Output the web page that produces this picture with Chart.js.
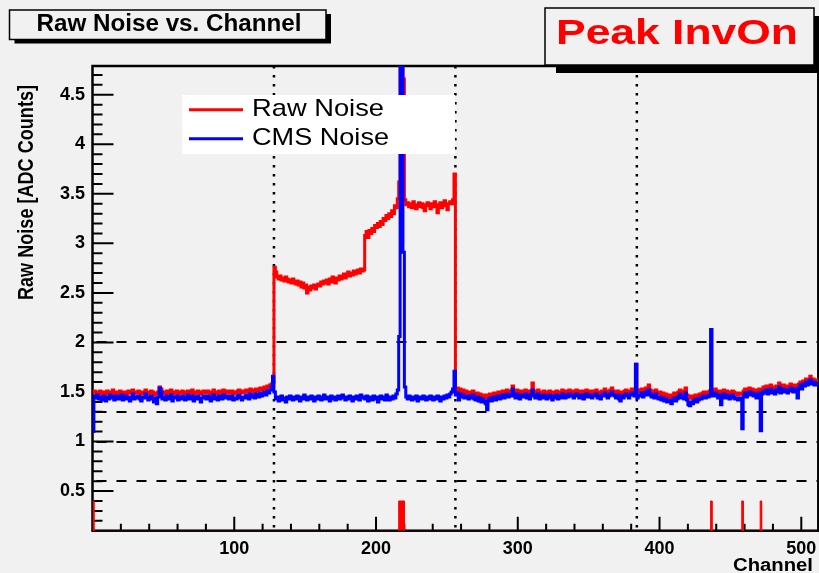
<!DOCTYPE html>
<html><head><meta charset="utf-8">
<script src="https://cdn.jsdelivr.net/npm/chart.js@4.4.1/dist/chart.umd.min.js"></script>
<style>html,body{margin:0;padding:0;background:#f1f1f1;}canvas{display:block;}</style>
</head><body>
<canvas id="c" width="819" height="573"></canvas>
<script>
const chartTitle = 'Raw Noise vs. Channel';
const runLabel = 'Peak InvOn';
const xTitle = 'Channel';
const yTitle = 'Raw Noise [ADC Counts]';

const rawNoise = [
1.50,1.51,1.49,1.50,1.48,1.51,1.50,1.49,1.47,1.50,1.51,1.48,1.49,1.50,1.52,1.49,
1.48,1.50,1.49,1.51,1.50,1.47,1.49,1.50,1.48,1.51,1.49,1.50,1.52,1.48,1.49,1.50,
1.51,1.49,1.48,1.50,1.49,1.52,1.50,1.48,1.49,1.51,1.50,1.47,1.49,1.48,1.50,1.55,
1.53,1.49,1.50,1.48,1.51,1.49,1.50,1.52,1.48,1.49,1.50,1.51,1.48,1.50,1.49,1.51,
1.50,1.48,1.49,1.51,1.50,1.49,1.52,1.48,1.50,1.49,1.51,1.50,1.48,1.49,1.51,1.50,
1.49,1.51,1.50,1.48,1.50,1.52,1.49,1.50,1.48,1.51,1.49,1.50,1.52,1.49,1.50,1.51,
1.49,1.50,1.51,1.48,1.50,1.49,1.51,1.52,1.50,1.49,1.51,1.50,1.52,1.51,1.50,1.53,
1.51,1.52,1.50,1.53,1.51,1.52,1.54,1.52,1.53,1.55,1.53,1.56,1.55,1.57,1.58,1.60,
2.76,2.71,2.66,2.64,2.67,2.63,2.65,2.62,2.66,2.64,2.61,2.63,2.60,2.64,2.62,2.59,
2.62,2.58,2.61,2.56,2.60,2.55,2.58,2.50,2.56,2.53,2.57,2.55,2.58,2.54,2.57,2.59,
2.57,2.61,2.59,2.62,2.60,2.63,2.59,2.64,2.61,2.66,2.62,2.60,2.65,2.63,2.67,2.64,
2.66,2.69,2.65,2.68,2.71,2.67,2.70,2.68,2.72,2.69,2.71,2.73,2.70,2.74,2.72,2.73,
3.08,3.12,3.06,3.13,3.10,3.15,3.12,3.18,3.16,3.20,3.17,3.22,3.19,3.25,3.23,3.28,
3.25,3.30,3.27,3.33,3.30,3.38,3.36,3.45,3.62,6.00,6.00,4.66,3.44,3.39,3.41,3.37,
3.40,3.36,3.42,3.38,3.35,3.39,3.41,3.37,3.40,3.36,3.33,3.39,3.41,3.38,3.35,3.40,
3.37,3.42,3.38,3.31,3.39,3.41,3.36,3.40,3.43,3.38,3.34,3.40,3.42,3.40,3.44,3.70,
1.52,1.54,1.51,1.53,1.50,1.52,1.49,1.51,1.50,1.48,1.50,1.49,1.51,1.48,1.47,1.49,
1.46,1.48,1.45,1.47,1.46,1.44,1.47,1.45,1.48,1.46,1.47,1.49,1.46,1.48,1.50,1.47,
1.49,1.51,1.48,1.50,1.52,1.49,1.51,1.50,1.56,1.51,1.49,1.52,1.50,1.48,1.51,1.49,
1.50,1.52,1.49,1.51,1.48,1.50,1.59,1.51,1.49,1.50,1.52,1.48,1.50,1.49,1.51,1.50,
1.48,1.50,1.51,1.49,1.47,1.50,1.49,1.51,1.48,1.50,1.49,1.52,1.50,1.49,1.51,1.50,
1.52,1.50,1.51,1.49,1.50,1.52,1.51,1.49,1.50,1.51,1.48,1.50,1.52,1.49,1.51,1.50,
1.49,1.51,1.50,1.52,1.49,1.50,1.48,1.51,1.50,1.53,1.51,1.49,1.50,1.52,1.54,1.51,
1.50,1.49,1.51,1.48,1.47,1.50,1.49,1.51,1.52,1.50,1.49,1.51,1.53,1.52,1.50,1.78,
1.52,1.50,1.51,1.53,1.50,1.52,1.54,1.51,1.57,1.52,1.50,1.51,1.49,1.52,1.50,1.48,
1.50,1.47,1.49,1.46,1.48,1.45,1.47,1.46,1.44,1.47,1.49,1.46,1.48,1.50,1.52,1.49,
1.51,1.48,1.54,1.47,1.44,1.45,1.46,1.43,1.45,1.47,1.44,1.46,1.48,1.47,1.49,1.50,
1.48,1.50,1.49,1.51,1.52,1.50,1.51,1.53,1.50,1.49,1.51,1.48,1.50,1.52,1.49,1.51,
1.50,1.48,1.49,1.51,1.50,1.48,1.49,1.47,1.48,1.49,1.48,1.51,1.53,1.50,1.52,1.54,
1.51,1.53,1.50,1.52,1.49,1.51,1.53,1.50,1.52,1.55,1.53,1.56,1.52,1.54,1.57,1.53,
1.55,1.52,1.56,1.54,1.59,1.53,1.55,1.57,1.54,1.56,1.53,1.55,1.58,1.56,1.54,1.57,
1.55,1.52,1.58,1.60,1.57,1.61,1.59,1.63,1.60,1.62,1.66,1.61,1.63,1.60,1.62,1.61
];

const cmsNoise = [
1.10,1.46,1.44,1.47,1.43,1.45,1.42,1.46,1.44,1.41,1.45,1.43,1.47,1.44,1.46,1.42,
1.44,1.46,1.43,1.45,1.47,1.42,1.44,1.46,1.43,1.45,1.41,1.44,1.48,1.43,1.45,1.44,
1.46,1.43,1.41,1.45,1.44,1.48,1.45,1.42,1.44,1.46,1.43,1.40,1.44,1.38,1.45,1.54,
1.50,1.43,1.45,1.42,1.46,1.44,1.43,1.47,1.41,1.44,1.45,1.46,1.42,1.45,1.43,1.46,
1.44,1.42,1.45,1.47,1.43,1.44,1.46,1.41,1.45,1.43,1.46,1.44,1.40,1.44,1.46,1.45,
1.43,1.46,1.44,1.41,1.45,1.47,1.43,1.45,1.42,1.46,1.44,1.43,1.47,1.44,1.45,1.46,
1.43,1.45,1.46,1.42,1.44,1.43,1.46,1.47,1.44,1.42,1.45,1.44,1.47,1.45,1.43,1.48,
1.45,1.47,1.44,1.48,1.46,1.45,1.49,1.46,1.48,1.50,1.47,1.51,1.49,1.52,1.55,1.66,
1.50,1.43,1.45,1.41,1.44,1.46,1.42,1.44,1.40,1.45,1.43,1.46,1.44,1.42,1.45,1.43,
1.46,1.44,1.41,1.45,1.43,1.47,1.44,1.42,1.45,1.43,1.46,1.44,1.41,1.45,1.43,1.46,
1.44,1.42,1.45,1.47,1.43,1.45,1.44,1.41,1.46,1.43,1.45,1.42,1.44,1.46,1.43,1.45,
1.47,1.44,1.42,1.45,1.43,1.46,1.44,1.41,1.45,1.43,1.46,1.44,1.42,1.47,1.44,1.45,
1.43,1.46,1.41,1.45,1.44,1.42,1.46,1.43,1.45,1.40,1.44,1.46,1.43,1.45,1.42,1.47,
1.44,1.42,1.45,1.43,1.46,1.44,1.48,1.52,2.06,6.00,6.00,2.91,1.55,1.45,1.43,1.46,
1.44,1.42,1.45,1.43,1.46,1.41,1.44,1.45,1.43,1.46,1.44,1.42,1.45,1.43,1.46,1.44,
1.42,1.45,1.43,1.46,1.44,1.41,1.45,1.43,1.46,1.44,1.47,1.45,1.48,1.50,1.53,1.71,
1.47,1.49,1.42,1.48,1.45,1.47,1.44,1.46,1.45,1.43,1.46,1.44,1.47,1.43,1.42,1.45,
1.41,1.44,1.40,1.43,1.41,1.38,1.32,1.42,1.44,1.41,1.43,1.45,1.42,1.44,1.46,1.43,
1.45,1.47,1.44,1.46,1.48,1.45,1.47,1.46,1.53,1.47,1.44,1.48,1.46,1.43,1.47,1.45,
1.46,1.48,1.44,1.47,1.43,1.46,1.52,1.47,1.44,1.46,1.48,1.43,1.46,1.44,1.47,1.45,
1.43,1.46,1.47,1.44,1.42,1.46,1.44,1.47,1.43,1.46,1.44,1.48,1.45,1.44,1.47,1.45,
1.48,1.46,1.47,1.44,1.46,1.48,1.47,1.44,1.46,1.47,1.43,1.46,1.48,1.45,1.47,1.46,
1.44,1.47,1.46,1.48,1.44,1.46,1.43,1.47,1.46,1.49,1.47,1.44,1.46,1.48,1.50,1.47,
1.46,1.44,1.47,1.43,1.41,1.46,1.44,1.47,1.48,1.46,1.44,1.47,1.49,1.48,1.46,1.78,
1.44,1.46,1.47,1.49,1.45,1.48,1.50,1.47,1.52,1.48,1.45,1.47,1.44,1.48,1.45,1.43,
1.45,1.42,1.44,1.41,1.43,1.40,1.42,1.41,1.38,1.42,1.44,1.41,1.43,1.45,1.48,1.44,
1.46,1.43,1.49,1.42,1.37,1.36,1.40,1.38,1.41,1.43,1.40,1.42,1.44,1.43,1.45,1.46,
1.44,1.46,1.45,1.47,2.13,1.46,1.47,1.49,1.46,1.44,1.47,1.37,1.45,1.48,1.44,1.47,
1.46,1.43,1.44,1.47,1.45,1.43,1.44,1.42,1.43,1.44,1.13,1.46,1.49,1.45,1.48,1.50,
1.47,1.49,1.46,1.48,1.44,1.47,1.49,1.11,1.48,1.51,1.49,1.52,1.48,1.50,1.53,1.49,
1.51,1.48,1.52,1.50,1.55,1.49,1.51,1.53,1.50,1.52,1.49,1.51,1.54,1.52,1.50,1.53,
1.51,1.44,1.54,1.57,1.53,1.58,1.56,1.60,1.57,1.59,1.62,1.58,1.60,1.57,1.59,1.58
];

const flaggedChannels = [0, 216, 217, 218, 219, 436, 458, 471];
const flagLevel = 0.4;
const cutChannels = [128, 256, 384];
const thresholdLevels = [2.0, 1.3, 1.0, 0.6];
const xTickValues = [100, 200, 300, 400, 500];
const yTickValues = [0.5, 1, 1.5, 2, 2.5, 3, 3.5, 4, 4.5];
const nChannels = 512;
const yMin = 0.1, yMax = 4.79;

function histPoints(vals) {
  const pts = [];
  vals.forEach((v, k) => { pts.push({x: k, y: v}); pts.push({x: k + 1, y: v}); });
  return pts;
}
const flagValues = Array.from({length: nChannels}, (_, k) => flaggedChannels.includes(k) ? flagLevel : 0);

const BG = '#f1f1f1';
const LBL = '"Liberation Sans", Arial, sans-serif';

function fitText(ctx, str, x, baseline, font, targetW, color) {
  ctx.save();
  ctx.font = font;
  const w = ctx.measureText(str).width;
  ctx.translate(x, baseline);
  ctx.scale(targetW / w, 1);
  ctx.fillStyle = color;
  ctx.textAlign = 'left';
  ctx.textBaseline = 'alphabetic';
  ctx.fillText(str, 0, 0);
  ctx.restore();
}

function shadowBox(ctx, x1, y1, x2, y2, dx, dy, fill) {
  ctx.save();
  ctx.fillStyle = '#000';
  ctx.fillRect(x1 + dx, y1 + dy, x2 - x1, y2 - y1);
  ctx.fillStyle = fill;
  ctx.fillRect(x1, y1, x2 - x1, y2 - y1);
  ctx.strokeStyle = '#000';
  ctx.lineWidth = 1.5;
  ctx.strokeRect(x1, y1, x2 - x1, y2 - y1);
  ctx.restore();
}

function zeroPad(s) { s.paddingLeft = 0; s.paddingRight = 0; s.paddingTop = 0; s.paddingBottom = 0; }

const rootDecor = {
  id: 'rootDecor',
  beforeDraw(chart) {
    const c = chart.ctx;
    c.save(); c.fillStyle = BG; c.fillRect(0, 0, chart.width, chart.height); c.restore();
  },
  beforeDatasetsDraw(chart) {
    const {ctx, chartArea: a, scales: {x, y}} = chart;
    ctx.save();
    ctx.beginPath(); ctx.rect(a.left, a.top, a.right - a.left, a.bottom - a.top); ctx.clip();
    ctx.strokeStyle = '#000';
    ctx.lineWidth = 2;
    ctx.setLineDash([10, 10]);
    thresholdLevels.forEach(v => {
      const py = Math.round(y.getPixelForValue(v));
      ctx.beginPath(); ctx.moveTo(a.left + 4, py); ctx.lineTo(a.right, py); ctx.stroke();
    });
    ctx.setLineDash([2.5, 6.5]);
    ctx.lineWidth = 2.5;
    cutChannels.forEach(ch => {
      const px = x.getPixelForValue(ch);
      ctx.beginPath(); ctx.moveTo(px, a.top); ctx.lineTo(px, a.bottom); ctx.stroke();
    });
    ctx.setLineDash([]);
    ctx.lineWidth = 2;
    for (let i = 2; i <= 47; i++) {
      const py = y.getPixelForValue(i / 10);
      const len = (i % 5 === 0) ? 21 : 10;
      ctx.beginPath(); ctx.moveTo(a.left, py); ctx.lineTo(a.left + len, py); ctx.stroke();
    }
    for (let c = 20; c < 512; c += 20) {
      const px = x.getPixelForValue(c);
      const len = (c % 100 === 0) ? 14 : 7;
      ctx.beginPath(); ctx.moveTo(px, a.bottom); ctx.lineTo(px, a.bottom - len); ctx.stroke();
    }
    ctx.restore();
    ctx.save();
    ctx.strokeStyle = '#000'; ctx.lineWidth = 2.5;
    ctx.strokeRect(a.left, a.top, a.right - a.left, a.bottom - a.top);
    ctx.restore();
  },
  afterDatasetsDraw(chart) {
    const {ctx} = chart;
    const ds = chart.data.datasets;
    ctx.save();
    ctx.fillStyle = '#ffffff';
    ctx.fillRect(182, 95, 273, 59);
    [[0, 109.7, 116.3, 132], [1, 138.7, 144.7, 137]].forEach(([i, ly, base, w]) => {
      ctx.strokeStyle = ds[i].borderColor; ctx.lineWidth = 3;
      ctx.beginPath(); ctx.moveTo(189, ly); ctx.lineTo(243, ly); ctx.stroke();
      fitText(ctx, ds[i].label, 252, base, '24px ' + LBL, w, '#000');
    });
    ctx.restore();
    shadowBox(ctx, 9.5, 10, 326, 39.5, 5, 4, BG);
    fitText(ctx, chartTitle, 36.5, 31, 'bold 23px ' + LBL, 265, '#000');
    shadowBox(ctx, 545, 8, 814, 65, 11, 8, BG);
    fitText(ctx, runLabel, 556, 43.5, 'bold 35px ' + LBL, 242, '#ff0000');
    fitText(ctx, xTitle, 733, 571, 'bold 18px ' + LBL, 80, '#000');
    ctx.save();
    ctx.font = 'bold 18px ' + LBL;
    const w = ctx.measureText(yTitle).width;
    ctx.translate(32.5, 300);
    ctx.rotate(-Math.PI / 2);
    ctx.scale(215 / w, 1.2);
    ctx.fillStyle = '#000';
    ctx.textBaseline = 'alphabetic';
    ctx.fillText(yTitle, 0, 0);
    ctx.restore();
  }
};

new Chart(document.getElementById('c'), {
  type: 'line',
  data: {
    datasets: [
      {label: 'Raw Noise', data: histPoints(rawNoise), borderColor: '#ff0000', borderWidth: 3,
       pointRadius: 0, tension: 0, fill: false, order: 2, borderJoinStyle: 'miter'},
      {label: 'CMS Noise', data: histPoints(cmsNoise), borderColor: '#0000ff', borderWidth: 3,
       pointRadius: 0, tension: 0, fill: false, order: 1, borderJoinStyle: 'miter'},
      {label: 'Flagged', data: histPoints(flagValues), borderColor: '#ff0000', backgroundColor: '#ff0000',
       borderWidth: 1, pointRadius: 0, tension: 0, fill: 'origin', order: 3}
    ]
  },
  options: {
    responsive: false, animation: false, devicePixelRatio: 1,
    layout: {padding: {left: 0, right: 0.7, top: 66, bottom: 0}},
    scales: {
      x: {
        type: 'linear', min: 0, max: nChannels,
        grid: {display: false, drawTicks: false, tickLength: 0}, border: {display: false},
        afterBuildTicks: s => { s.ticks = xTickValues.map(v => ({value: v})); },
        afterFit: s => { s.height = 42.3; zeroPad(s); },
        ticks: {autoSkip: false, maxRotation: 0, padding: 8, color: '#000',
                callback: v => String(v),
                font: {family: '"Liberation Sans", Arial, sans-serif', weight: 'bold', size: 18}}
      },
      y: {
        type: 'linear', min: yMin, max: yMax,
        grid: {display: false, drawTicks: false, tickLength: 0}, border: {display: false},
        afterBuildTicks: s => { s.ticks = yTickValues.map(v => ({value: v})); },
        afterFit: s => { s.width = 92.5; zeroPad(s); },
        ticks: {padding: 7.5, color: '#000',
                callback: v => String(v),
                font: {family: '"Liberation Sans", Arial, sans-serif', weight: 'bold', size: 18}}
      }
    },
    plugins: {legend: {display: false}, tooltip: {enabled: false}}
  },
  plugins: [rootDecor]
});
</script>
</body></html>
